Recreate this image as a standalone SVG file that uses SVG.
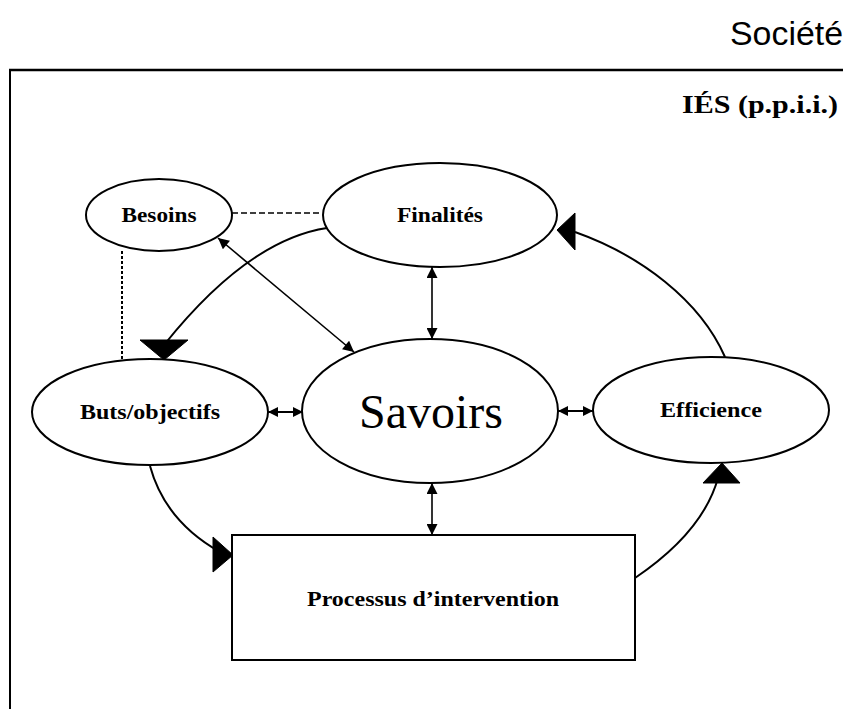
<svg xmlns="http://www.w3.org/2000/svg" width="843" height="709" viewBox="0 0 843 709">
  <style>
    .node { fill: #fff; stroke: #000; stroke-width: 2; }
    .lbl { font-family: "Liberation Serif", "Times New Roman", serif; font-weight: bold; font-size: 22px; fill: #000; text-anchor: middle; }
    .conn { fill: none; stroke: #000; stroke-width: 2; }
    .thin { fill: none; stroke: #000; stroke-width: 1.6; }
    .dash { fill: none; stroke: #000; stroke-width: 1.5; stroke-dasharray: 6 3; }
    .dot { fill: none; stroke: #000; stroke-width: 2; stroke-dasharray: 3 2; }
    .head { fill: #000; stroke: #000; stroke-width: 1; }
  </style>
  <defs>
    <marker id="ah" viewBox="0 0 10 10" refX="10" refY="5" markerWidth="12" markerHeight="11" markerUnits="userSpaceOnUse" orient="auto-start-reverse">
      <path d="M0,0 L10,5 L0,10 z" fill="#000"/>
    </marker>
    <marker id="ahs" viewBox="0 0 10 10" refX="10" refY="5" markerWidth="13" markerHeight="10" markerUnits="userSpaceOnUse" orient="auto-start-reverse">
      <path d="M0,0 L10,5 L0,10 z" fill="#000"/>
    </marker>
  </defs>

  <rect width="843" height="709" fill="#fff"/>

  <!-- outer frame and headings -->
  <g id="frame">
    <line x1="9" y1="70" x2="843" y2="70" stroke="#000" stroke-width="2.5"/>
    <line x1="10" y1="69" x2="10" y2="709" stroke="#000" stroke-width="2"/>
    <text x="730" y="45" font-family="Liberation Sans Narrow, Liberation Sans, Arial, sans-serif" font-size="34" textLength="113" lengthAdjust="spacingAndGlyphs">Société</text>
    <text x="682" y="113" font-family="Liberation Serif, Times New Roman, serif" font-weight="bold" font-size="25" textLength="156" lengthAdjust="spacingAndGlyphs">IÉS (p.p.i.i.)</text>
  </g>

  <!-- connectors -->
  <g id="connectors">
    <!-- dashed links from Besoins -->
    <line class="dash" x1="232" y1="213" x2="322" y2="213"/>
    <line class="dot" x1="122" y1="251" x2="122" y2="360"/>

    <!-- cycle: Finalités -> Buts/objectifs -> Processus -> Efficience -> Finalités -->
    <path class="conn" d="M327,228 Q248,240 164,345"/>
    <polygon class="head" points="140,340 188,340 164,360"/>

    <path class="conn" d="M150,466 Q165,521 220,552"/>
    <polygon class="head" points="213,537 213,572 233,555"/>

    <path class="conn" d="M635,578 Q703,532 718,478"/>
    <polygon class="head" points="703,483 740,483 722,463"/>

    <path class="conn" d="M725,357 C700,300 640,255 575,232"/>
    <polygon class="head" points="575,213 575,250 557,230"/>

    <!-- two-way links to Savoirs -->
    <line class="thin" x1="218" y1="238" x2="354" y2="352" marker-start="url(#ah)" marker-end="url(#ah)"/>
    <line class="thin" x1="432" y1="267" x2="432" y2="339" marker-start="url(#ah)" marker-end="url(#ah)"/>
    <line class="thin" x1="432" y1="483" x2="432" y2="535" marker-start="url(#ah)" marker-end="url(#ah)"/>
    <line class="conn" x1="268" y1="412" x2="303" y2="412" marker-start="url(#ahs)" marker-end="url(#ahs)"/>
    <line class="conn" x1="558" y1="411" x2="593" y2="411" marker-start="url(#ahs)" marker-end="url(#ahs)"/>
  </g>

  <g id="besoins">
    <ellipse class="node" cx="159" cy="215" rx="73" ry="36"/>
    <text class="lbl" x="159" y="222" font-weight="normal" textLength="75" lengthAdjust="spacingAndGlyphs">Besoins</text>
  </g>

  <g id="finalites">
    <ellipse class="node" cx="440" cy="215" rx="117" ry="52"/>
    <text class="lbl" x="440" y="222" textLength="86" lengthAdjust="spacingAndGlyphs">Finalités</text>
  </g>

  <g id="buts-objectifs">
    <ellipse class="node" cx="150" cy="412" rx="118" ry="53"/>
    <text class="lbl" x="150" y="419" textLength="140" lengthAdjust="spacingAndGlyphs">Buts/objectifs</text>
  </g>

  <g id="savoirs">
    <ellipse class="node" cx="430" cy="411" rx="128" ry="72"/>
    <text x="431" y="428" font-family="Liberation Serif, Times New Roman, serif" font-size="48" text-anchor="middle">Savoirs</text>
  </g>

  <g id="efficience">
    <ellipse class="node" cx="711" cy="410" rx="118" ry="53"/>
    <text class="lbl" x="711" y="417" textLength="102" lengthAdjust="spacingAndGlyphs">Efficience</text>
  </g>

  <g id="processus">
    <rect class="node" x="232" y="535" width="403" height="125"/>
    <text class="lbl" x="433" y="606" textLength="252" lengthAdjust="spacingAndGlyphs">Processus d’intervention</text>
  </g>
</svg>
